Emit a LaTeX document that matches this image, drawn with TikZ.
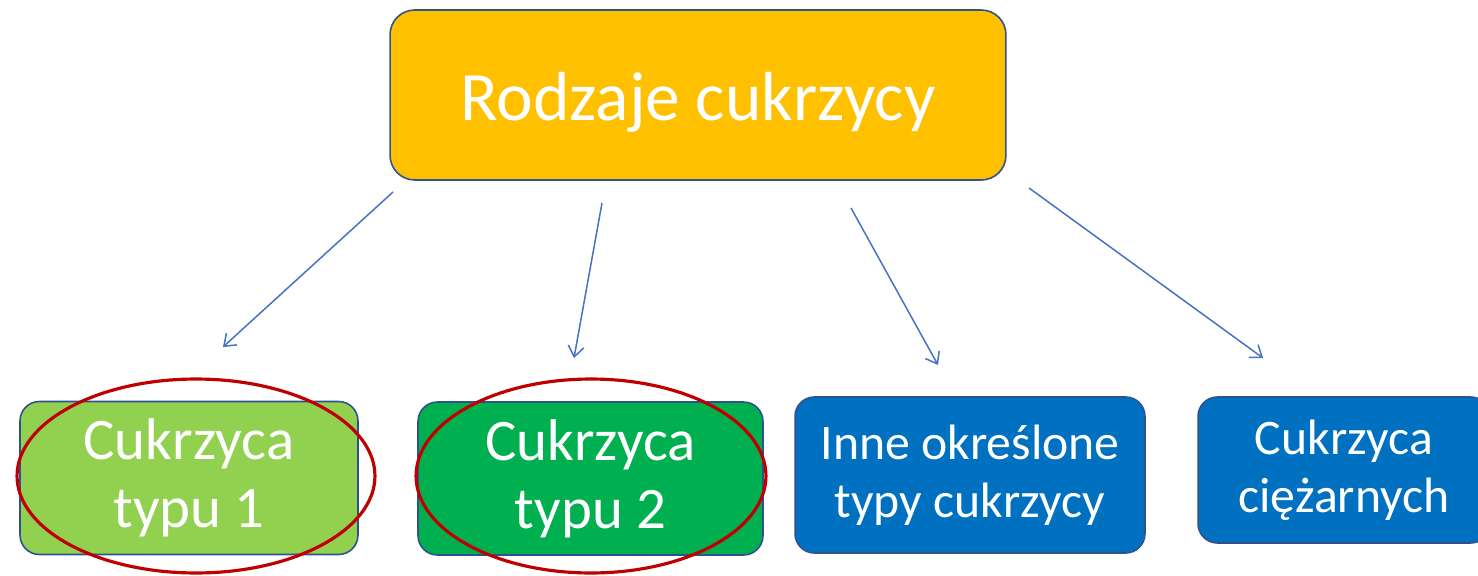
\documentclass[tikz,border=0pt]{standalone}
\usepackage{fontspec}
\setmainfont{Carlito}
\usetikzlibrary{arrows.meta}

\definecolor{topfill}{HTML}{FFC000}
\definecolor{lightgreen}{HTML}{92D050}
\definecolor{darkgreen}{HTML}{00B050}
\definecolor{typeblue}{HTML}{0070C0}
\definecolor{boxline}{HTML}{2F528F}
\definecolor{linkblue}{HTML}{4472C4}
\definecolor{ringred}{HTML}{C00000}

\tikzset{
	box/.style={draw=boxline,line width=0.9pt,rounded corners=11pt,text=white,align=center,inner sep=0pt},
	bigtype/.style={box,font=\fontsize{33.5}{38.5}\selectfont},
	smalltype/.style={box,font=\fontsize{28.3}{33}\selectfont},
	link/.style={draw=linkblue,line width=0.85pt,-{Straight Barb[length=6pt,width=9pt]}},
	ring/.style={draw=ringred,line width=1.8pt}
}

\begin{document}
\begin{tikzpicture} [x=0.02cm,y=-0.02cm]
			\useasboundingbox (0,0) rectangle (1478,575);
			% main box
			\node [box,fill=topfill,minimum width=12.32cm,minimum height=3.4cm,rounded corners=14pt,font=\fontsize{39.5}{44}\selectfont] (kinds) at (698,95) {\raisebox{-4pt}[\height][\depth]{Rodzaje cukrzycy}};
			% the four types
			\node [bigtype,fill=lightgreen,minimum width=6.76cm,minimum height=3.06cm] (type1) at (189,478) {Cukrzyca\\typu 1};
			\node [bigtype,fill=darkgreen,minimum width=6.9cm,minimum height=3.06cm] (type2) at (590.5,478.5) {Cukrzyca\\typu 2};
			\node [smalltype,fill=typeblue,minimum width=7cm,minimum height=3.12cm] (other) at (970,475) {Inne określone\\typy cukrzycy};
			\node [smalltype,fill=typeblue,minimum width=5.84cm,minimum height=2.92cm] (gest) at (1344,470) {Cukrzyca\\ciężarnych};
			% marked types
			\draw [ring] (196,476) ellipse [x radius=3.58cm,y radius=1.94cm];
			\draw [ring] (591,476) ellipse [x radius=3.5cm,y radius=1.94cm];
			% arrows
			\coordinate (from1) at (393,192);
			\coordinate (to1) at (223,347);
			\coordinate (from2) at (602,203);
			\coordinate (to2) at (574,358);
			\coordinate (from3) at (851,208);
			\coordinate (to3) at (938,365);
			\coordinate (from4) at (1029,188);
			\coordinate (to4) at (1263,358);
			\draw [link] (from1) -- (to1);
			\draw [link] (from2) -- (to2);
			\draw [link] (from3) -- (to3);
			\draw [link] (from4) -- (to4);
		\end{tikzpicture}
\end{document}
